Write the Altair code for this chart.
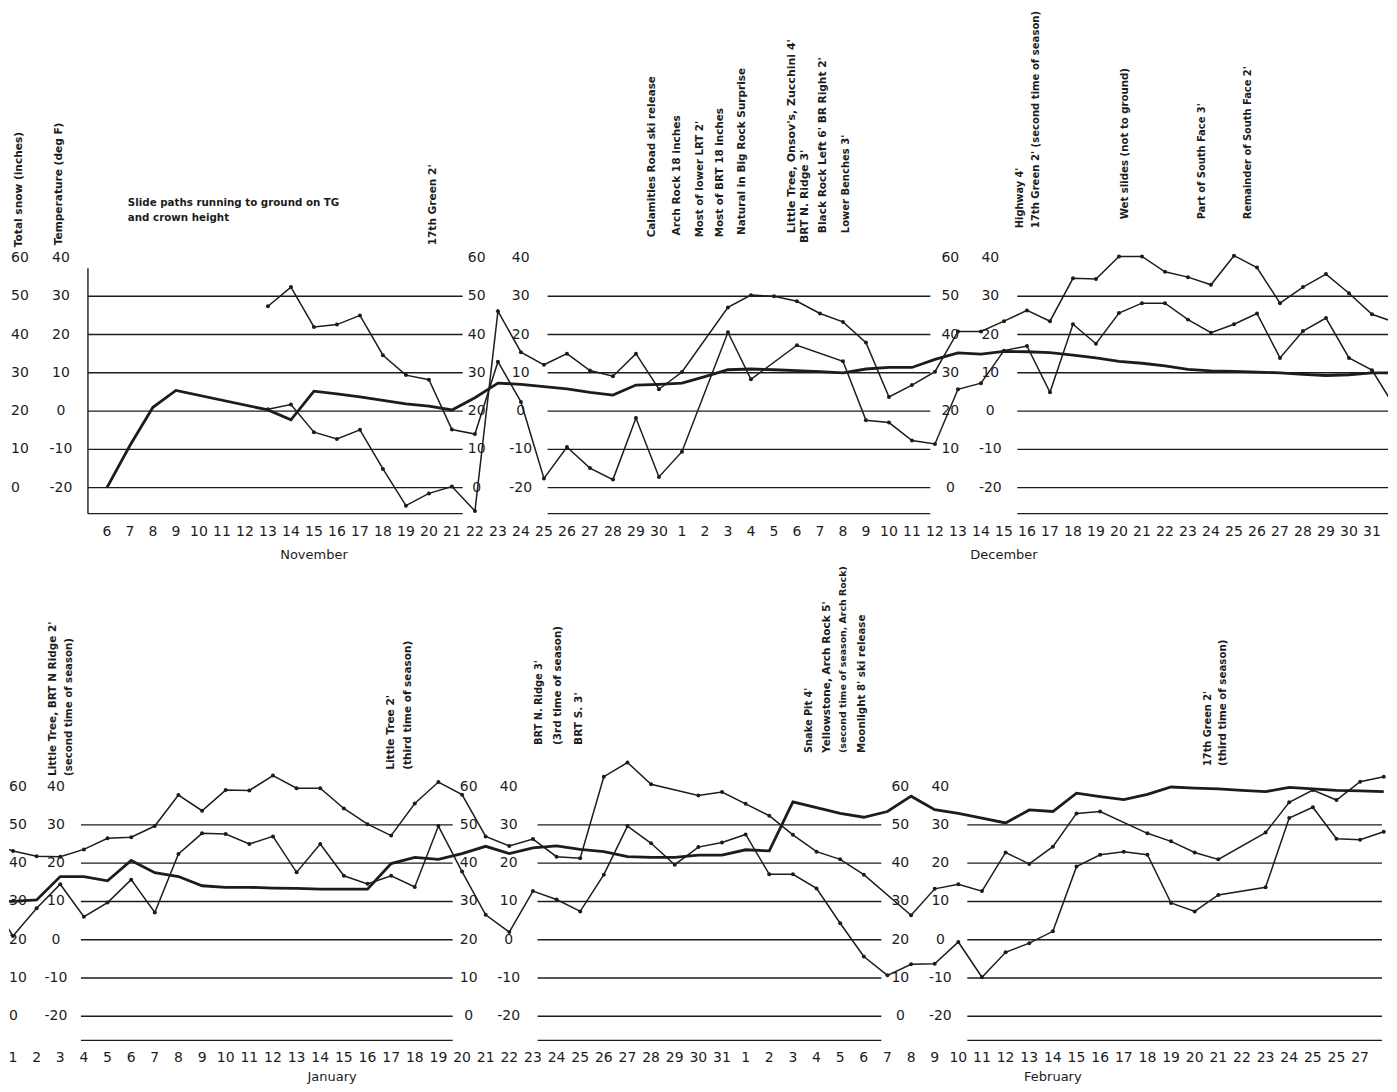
import altair as alt
import pandas as pd

# ---------------- data ----------------
nov_days = [6, 7, 8, 9, 10, 11, 12, 13, 14, 15, 16, 17, 18, 19, 20, 21, 22, 23, 24, 25, 26, 27, 28, 29, 30]
nov_snow = [0, 11.0, 21.0, 25.4, None, None, None, 20.3, 17.7, 25.2, 24.5, 23.7, 22.8, 21.9, 21.3,
            20.3, 23.5, 27.3, 27.0, 26.4, 25.8, 24.9, 24.2, 26.8, 27.0]
nov_line_a = [None, None, None, None, None, None, None, 27.4, 32.4, 22.0, 22.6, 25.0, 14.6, 9.4, 8.2,
              -4.8, -6.0, 12.9, 2.4, -17.6, -9.4, -14.9, -17.9, -1.8, -17.2]
nov_line_b = [None, None, None, None, None, None, None, 0.5, 1.7, -5.5, -7.3, -4.9, -15.1, -24.7, -21.5,
              -19.7, -26.1, 26.1, 15.4, 12.1, 15.0, 10.6, 9.1, 15.0, 5.7]

dec_days = [1, 2, 3, 4, 5, 6, 7, 8, 9, 10, 11, 12, 13, 14, 15, 16, 17, 18, 19, 20, 21, 22, 23, 24, 25,
            26, 27, 28, 29, 30, 31]
dec_snow = [27.3, 29.0, 30.8, 31.0, 30.8, 30.6, 30.3, 30.0, 31.0, 31.4,
            31.4, 33.5, 35.2, 34.9, 35.6, 35.5, 35.3, 34.6, 33.9, 33.0,
            32.5, 31.8, 30.9, 30.5, 30.4, 30.2, 30.0, 29.6, 29.3, 29.5, 30.0]
dec_line_a = [-10.6, None, 20.6, 8.3, None, 17.2, None, 13.0, -2.4, -3.0,
              -7.7, -8.6, 5.7, 7.3, 15.8, 17.0, 4.9, 22.7, 17.6, 25.6,
              28.2, 28.2, 23.9, 20.5, 22.7, 25.5, 13.9, 20.9, 24.3, 13.9, 10.7]
dec_line_b = [10.2, None, 27.1, 30.3, 30.0, 28.7, 25.5, 23.3, 17.9, 3.7,
              6.8, 10.3, 20.8, 20.8, 23.5, 26.3, 23.5, 34.7, 34.5, 40.4,
              40.4, 36.4, 35.0, 33.0, 40.6, 37.5, 28.2, 32.4, 35.8, 30.8, 25.3]

jan_days = [1, 2, 3, 4, 5, 6, 7, 8, 9, 10, 11, 12, 13, 14, 15, 16, 17, 18, 19, 20, 21, 22, 23, 24, 25,
            26, 27, 28, 29, 30, 31]
jan_snow = [30.0, 30.4, 36.5, 36.5, 35.4, 40.7, 37.5, 36.5, 34.1, 33.7,
            33.7, 33.5, 33.4, 33.2, 33.2, 33.2, 39.9, 41.5, 41.0, 42.5,
            44.4, 42.5, 44.0, 44.5, 43.6, 43.0, 41.7, 41.5, 41.5, 42.1, 42.1]
jan_line_a = [1.0, 8.2, 14.5, 6.0, 9.7, 15.7, 7.1, 22.4, 27.8, 27.6,
              25.0, 27.0, 17.6, 25.0, 16.7, 14.6, 16.7, 13.8, 29.7, 17.8,
              6.5, 2.0, 12.7, 10.5, 7.4, 17.0, 29.7, 25.2, 19.6, 24.2, 25.4]
jan_line_b = [23.2, 21.8, 21.7, 23.6, 26.5, 26.8, 29.7, 37.8, 33.7, 39.1,
              39.0, 42.9, 39.6, 39.6, 34.3, 30.2, 27.2, 35.6, 41.2, 37.9,
              27.0, 24.5, 26.3, 21.7, 21.3, 42.6, 46.3, 40.6, None, 37.7, 38.6]

feb_days = [1, 2, 3, 4, 5, 6, 7, 8, 9, 10, 11, 12, 13, 14, 15, 16, 17, 18, 19, 20, 21, 22, 23, 24, 25,
            26, 27, 28]
feb_snow = [43.5, 43.2, 56.0, 54.5, 53.0, 52.0, 53.5, 57.5, 54.0, 53.0,
            51.8, 50.5, 53.9, 53.5, 58.3, 57.4, 56.6, 58.0, 59.9, 59.6,
            59.4, 59.0, 58.7, 59.8, 59.4, 59.0, 58.9, 58.7]
feb_line_a = [27.5, 17.1, 17.1, 13.4, 4.3, -4.4, -9.3, -6.4, -6.3, -0.6,
              -9.8, -3.3, -0.9, 2.2, 19.1, 22.2, 23.0, 22.2, 9.6, 7.4,
              11.7, None, 13.7, 31.8, 34.6, 26.4, 26.1, 28.2]
feb_line_b = [35.5, 32.4, 27.4, 23.0, 21.0, 17.0, None, 6.4, 13.3, 14.5,
              12.7, 22.8, 19.8, 24.3, 33.0, 33.5, None, 27.8, 25.7, 22.8,
              21.0, None, 28.0, 35.9, 39.1, 36.5, 41.3, 42.6]

top_tick_labels = [str(d) for d in nov_days + dec_days]
jan_tick_labels = [str(d) for d in jan_days]
feb_tick_labels = ["1", "2", "3", "4", "5", "6", "7", "8", "9", "10", "11", "12", "13", "14", "15",
                   "16", "17", "18", "19", "20", "21", "22", "23", "24", "25", "25", "27"]

snow_ticks = ["60", "50", "40", "30", "20", "10", "0"]
temp_ticks = ["40", "30", "20", "10", "0", "-10", "-20"]
grid_temps = [30, 20, 10, 0, -10, -20]

# annotation texts with (day index, base temperature, font size) placement
top_notes = [
    ("17th Green 2'", 14.16, 43.3, 10.6),
    ("Calamities Road  ski release", 23.7, 45.4, 10.4),
    ("Arch Rock 18 inches", 24.8, 45.9, 10.6),
    ("Most of lower LRT 2'", 25.8, 45.4, 10.2),
    ("Most of BRT 18 inches", 26.67, 45.4, 10.4),
    ("Natural in Big Rock Surprise", 27.63, 46.0, 10.5),
    ("Little Tree, Onsov's, Zucchini 4'", 29.8, 46.5, 11.0),
    ("BRT N. Ridge 3'", 30.37, 43.9, 10.8),
    ("Black Rock Left 6' BR Right 2'", 31.15, 46.5, 10.6),
    ("Lower Benches 3'", 32.15, 46.5, 10.0),
    ("Highway 4'", 39.7, 47.8, 9.8),
    ("17th Green 2' (second time of season)", 40.4, 47.8, 10.1),
    ("Wet slides  (not to ground)", 44.27, 50.1, 10.2),
    ("Part of South Face 3'", 47.6, 50.1, 9.9),
    ("Remainder of South Face 2'", 49.6, 50.1, 9.9),
]
bottom_notes = [
    ("Little Tree, BRT N Ridge 2'", 1.69, 42.8, 10.5),
    ("(second time of season)", 2.37, 42.8, 10.2),
    ("Little Tree 2'", 15.98, 44.4, 10.6),
    ("(third time of season)", 16.70, 44.4, 10.5),
    ("BRT N. Ridge 3'", 22.24, 50.9, 9.8),
    ("(3rd time of season)", 23.04, 50.9, 10.4),
    ("BRT S. 3'", 23.93, 50.9, 10.6),
    ("Snake Pit 4'", 33.66, 48.8, 9.8),
    ("Yellowstone, Arch Rock 5'", 34.46, 48.8, 10.5),
    ("(second time of season, Arch Rock)", 35.14, 48.8, 9.4),
    ("Moonlight 8' ski release", 35.94, 48.8, 10.3),
    ("17th Green 2'", 50.57, 45.4, 9.8),
    ("(third time of season)", 51.2, 45.4, 10.3),
]
slide_note = [("Slide paths running to ground on TG", 0.91, 54.3), ("and crown height", 0.91, 50.4)]

# ---------------- build tables ----------------
INK = "#1c1c1c"
FONT = "DejaVu Sans"


def day_frame(blocks, start):
    recs = []
    i = start
    for days, snow, a, b in blocks:
        for k in range(len(days)):
            for name, vals in (("snow", snow), ("a", a), ("b", b)):
                if vals[k] is not None:
                    recs.append({"idx": i, "series": name, "value": vals[k]})
            i += 1
    return pd.DataFrame(recs)


top_df = day_frame([(nov_days, nov_snow, nov_line_a, nov_line_b),
                    (dec_days, dec_snow, dec_line_a, dec_line_b),
                    (jan_days[:1], jan_snow[:1], jan_line_a[:1], jan_line_b[:1])], 0)
bot_df = day_frame([(dec_days[-1:], dec_snow[-1:], dec_line_a[-1:], dec_line_b[-1:]),
                    (jan_days, jan_snow, jan_line_a, jan_line_b),
                    (feb_days, feb_snow, feb_line_a, feb_line_b)], -1)

top_ticks = pd.DataFrame({"idx": list(range(len(top_tick_labels))), "label": top_tick_labels})
bot_labels = jan_tick_labels + feb_tick_labels
bot_ticks = pd.DataFrame({"idx": list(range(len(bot_labels))), "label": bot_labels})


def make_row(df, ticks, xdom, ydom, W, H, segments, bottom_temp, cols, tick_y,
             months, month_y, month_baseline, notes, extra):
    xs = alt.Scale(domain=xdom, nice=False, zero=False)
    ys = alt.Scale(domain=ydom, nice=False, zero=False)
    X = lambda f: alt.X(f, scale=xs, axis=None)
    Y = lambda f: alt.Y(f, scale=ys, axis=None)
    layers = []
    grid_df = pd.DataFrame({"t": grid_temps + [bottom_temp]})
    for x1, x2 in segments:
        layers.append(alt.Chart(grid_df).mark_rule(color=INK, strokeWidth=1.4).encode(
            y=Y("t:Q"), x=alt.value(x1), x2=alt.value(x2)))
    layers += extra(X, Y)
    layers.append(alt.Chart(df).transform_filter("datum.series == 'snow'")
                  .transform_calculate(pos="datum.value - 20")
                  .mark_line(color=INK, strokeWidth=2.8, clip=True)
                  .encode(x=X("idx:Q"), y=Y("pos:Q"), order="idx:Q"))
    layers.append(alt.Chart(df).transform_filter("datum.series != 'snow'")
                  .mark_line(color=INK, strokeWidth=1.5, clip=True)
                  .encode(x=X("idx:Q"), y=Y("value:Q"), detail="series:N", order="idx:Q"))
    layers.append(alt.Chart(df).transform_filter("datum.series != 'snow'")
                  .mark_circle(color=INK, size=16, opacity=1, clip=True)
                  .encode(x=X("idx:Q"), y=Y("value:Q")))
    layers.append(alt.Chart(ticks).mark_text(font=FONT, fontSize=14, color=INK, baseline="middle")
                  .encode(x=X("idx:Q"), y=alt.value(tick_y), text="label:N"))
    snow_df = pd.DataFrame({"lab": snow_ticks, "t": [float(s) - 20 for s in snow_ticks]})
    temp_df = pd.DataFrame({"lab": temp_ticks, "t": [float(s) for s in temp_ticks]})
    for (sx, salign), tx in cols:
        layers.append(alt.Chart(snow_df).mark_text(font=FONT, fontSize=14, color=INK, align=salign,
                                                   baseline="middle")
                      .encode(x=alt.value(sx), y=Y("t:Q"), text="lab:N"))
        layers.append(alt.Chart(temp_df).mark_text(font=FONT, fontSize=14, color=INK, align="center",
                                                   baseline="middle")
                      .encode(x=alt.value(tx), y=Y("t:Q"), text="lab:N"))
    mdf = pd.DataFrame({"name": [m[0] for m in months], "idx": [m[1] for m in months]})
    layers.append(alt.Chart(mdf).mark_text(font=FONT, fontSize=13, color=INK, baseline=month_baseline)
                  .encode(x=X("idx:Q"), y=alt.value(month_y), text="name:N"))
    ndf = pd.DataFrame({"text": [n[0] for n in notes], "day": [n[1] for n in notes],
                        "base": [n[2] for n in notes], "fs": [n[3] for n in notes]})
    layers.append(alt.Chart(ndf).mark_text(font=FONT, fontWeight="bold", color=INK,
                                           angle=270, align="left", baseline="middle")
                  .encode(x=X("day:Q"), y=Y("base:Q"), text="text:N",
                          size=alt.Size("fs:Q", scale=None, legend=None)))
    return alt.layer(*layers).properties(width=W, height=H)


def top_extra(X, Y):
    out = []
    ax = pd.DataFrame({"y1": [37.3], "y2": [-26.8]})
    out.append(alt.Chart(ax).mark_rule(color=INK, strokeWidth=1.4).encode(
        x=alt.value(79), y=Y("y1:Q"), y2="y2:Q"))
    sdf = pd.DataFrame({"text": [s[0] for s in slide_note], "day": [s[1] for s in slide_note],
                        "base": [s[2] for s in slide_note]})
    out.append(alt.Chart(sdf).mark_text(font=FONT, fontSize=10.3, fontWeight="bold", color=INK,
                                        align="left", baseline="middle")
               .encode(x=X("day:Q"), y=Y("base:Q"), text="text:N"))
    for txt, px, py in (("Total snow (inches)", 10, 239), ("Temperature (deg F)", 50, 237)):
        out.append(alt.Chart(pd.DataFrame({"t": [txt]})).mark_text(
            font=FONT, fontSize=10.6, fontWeight="bold", color=INK, angle=270, align="left",
            baseline="middle")
            .encode(x=alt.value(px), y=alt.value(py), text="t:N"))
    return out


W = 1380
top = make_row(top_df, top_ticks, [-4.2575, 55.696], [-40.47, 105.22], W, 558,
               [(79, 454), (539, 922), (1009, 1380)], -26.8,
               [((2, "left"), 52), ((468, "center"), 512), ((942, "center"), 982)],
               524, [("November", 9), ("December", 39)], 547, "middle", top_notes, top_extra)

bottom = make_row(bot_df, bot_ticks, [-0.169, 58.18], [-37.86, 96.87], W, 516,
                  [(72, 444), (529, 873), (959, 1374)], -26.3,
                  [((0, "left"), 47), ((460, "center"), 500), ((892, "center"), 932)],
                  489, [("January", 13.5), ("February", 44)], 515, "bottom", bottom_notes,
                  lambda X, Y: [])

chart = alt.vconcat(top, bottom, spacing=0).properties(padding=0, background="white").configure_view(
    stroke=None)

chart.save("out.html", embed_options={"renderer": "svg", "actions": False})
